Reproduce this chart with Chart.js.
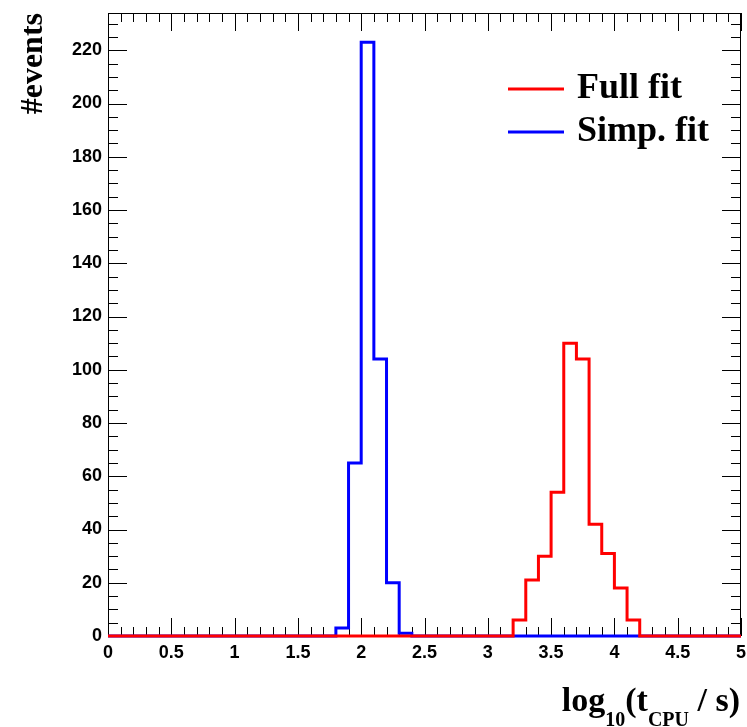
<!DOCTYPE html>
<html>
<head>
<meta charset="utf-8">
<script src="https://cdn.jsdelivr.net/npm/chart.js@4.4.1/dist/chart.umd.min.js"></script>
<style>
html,body{margin:0;padding:0;background:#ffffff;}
#wrap{width:747px;height:727px;position:relative;}
</style>
</head>
<body>
<div id="wrap"><canvas id="c" width="747" height="727"></canvas></div>
<script>
// ---- data ----
const binLow = [0.0,0.1,0.2,0.3,0.4,0.5,0.6,0.7,0.8,0.9,
                1.0,1.1,1.2,1.3,1.4,1.5,1.6,1.7,1.8,1.9,
                2.0,2.1,2.2,2.3,2.4,2.5,2.6,2.7,2.8,2.9,
                3.0,3.1,3.2,3.3,3.4,3.5,3.6,3.7,3.8,3.9,
                4.0,4.1,4.2,4.3,4.4,4.5,4.6,4.7,4.8,4.9];
const binHighEdge = 5.0;
const fullFit = [0,0,0,0,0,0,0,0,0,0,
                 0,0,0,0,0,0,0,0,0,0,
                 0,0,0,0,0,0,0,0,0,0,
                 0,0,6,21,30,54,110,104,42,31,
                 18,6,0,0,0,0,0,0,0,0];
const simpFit = [0,0,0,0,0,0,0,0,0,0,
                 0,0,0,0,0,0,0,0,3,65,
                 223,104,20,1,0,0,0,0,0,0,
                 0,0,0,0,0,0,0,0,0,0,
                 0,0,0,0,0,0,0,0,0,0];
const seriesNames = ['Full fit', 'Simp. fit'];
const xTickValues = [0,0.5,1,1.5,2,2.5,3,3.5,4,4.5,5];
const yTickValues = [0,20,40,60,80,100,120,140,160,180,200,220];
const xRange = [0, 5];
const yRange = [0, 234];
const yTitle = '#events';

// ---- helpers ----
function toSteps(values) {
  const pts = binLow.map((x, i) => ({x: x, y: values[i]}));
  pts.push({x: binHighEdge, y: values[values.length - 1]});
  return pts;
}

const SERIF = '"Liberation Serif", "Times New Roman", serif';
const SANS = '"Liberation Sans", Arial, sans-serif';

const framePlugin = {
  id: 'framePlugin',
  beforeDatasetsDraw(chart) {
    const ctx = chart.ctx;
    const a = chart.chartArea;
    const xs = chart.scales.x, ys = chart.scales.y;
    ctx.save();
    ctx.strokeStyle = '#000';
    ctx.lineWidth = 1;
    ctx.beginPath();
    // x ticks (bottom and top), minor every 0.1, major every 0.5
    for (let i = 0; i <= 50; i++) {
      const v = xRange[0] + i * 0.1;
      const px = Math.round(xs.getPixelForValue(v)) + 0.5;
      const len = (i % 5 === 0) ? 18 : 9;
      ctx.moveTo(px, a.bottom); ctx.lineTo(px, a.bottom - len);
      ctx.moveTo(px, a.top); ctx.lineTo(px, a.top + len);
    }
    // y ticks (left and right), minor every 5, major every 20
    for (let j = 0; j * 5 <= yRange[1]; j++) {
      const v = j * 5;
      const py = Math.round(ys.getPixelForValue(v)) + 0.5;
      const len = (v % 20 === 0) ? 19 : 10;
      ctx.moveTo(a.left, py); ctx.lineTo(a.left + len, py);
      ctx.moveTo(a.right, py); ctx.lineTo(a.right - len, py);
    }
    ctx.stroke();
    ctx.strokeRect(a.left + 0.5, a.top + 0.5, a.right - a.left - 1, a.bottom - a.top - 1);
    ctx.restore();
  },
  afterDraw(chart) {
    const ctx = chart.ctx;
    ctx.save();
    // legend
    const rows = [89, 132];
    chart.data.datasets.forEach((ds, i) => {
      const y = rows[i];
      ctx.strokeStyle = ds.borderColor;
      ctx.lineWidth = 3;
      ctx.beginPath();
      ctx.moveTo(508, y); ctx.lineTo(564, y);
      ctx.stroke();
      ctx.fillStyle = '#000';
      ctx.font = 'bold 36px ' + SERIF;
      ctx.textAlign = 'left';
      ctx.textBaseline = 'alphabetic';
      ctx.fillText(ds.label, 577, y + 8.5);
    });
    // y title
    ctx.save();
    ctx.translate(42, 13);
    ctx.rotate(-Math.PI / 2);
    ctx.font = 'bold 32px ' + SERIF;
    ctx.textAlign = 'right';
    ctx.textBaseline = 'alphabetic';
    ctx.fillStyle = '#000';
    ctx.fillText(yTitle, 0, 0);
    ctx.restore();
    // x title: log10(tCPU / s) with subscripts
    const parts = [
      {t: 'log', s: 34, dy: 0},
      {t: '10', s: 20, dy: 15},
      {t: '(t', s: 34, dy: 0},
      {t: 'CPU', s: 20, dy: 15},
      {t: ' / s)', s: 34, dy: 0}
    ];
    let total = 0;
    parts.forEach(p => { ctx.font = 'bold ' + p.s + 'px ' + SERIF; p.w = ctx.measureText(p.t).width; total += p.w; });
    let x = 740 - total;
    const base = 711;
    ctx.fillStyle = '#000';
    ctx.textAlign = 'left';
    ctx.textBaseline = 'alphabetic';
    parts.forEach(p => {
      ctx.font = 'bold ' + p.s + 'px ' + SERIF;
      ctx.fillText(p.t, x, base + p.dy);
      x += p.w;
    });
    ctx.restore();
  }
};

new Chart(document.getElementById('c'), {
  type: 'line',
  data: {
    datasets: [
      {label: seriesNames[0], data: toSteps(fullFit), borderColor: '#ff0000', borderWidth: 3,
       stepped: true, pointRadius: 0, fill: false, borderJoinStyle: 'miter', tension: 0, clip: false},
      {label: seriesNames[1], data: toSteps(simpFit), borderColor: '#0000ff', borderWidth: 3,
       stepped: true, pointRadius: 0, fill: false, borderJoinStyle: 'miter', tension: 0, clip: false}
    ]
  },
  options: {
    responsive: false,
    devicePixelRatio: 1,
    animation: false,
    events: [],
    layout: {padding: {left: 0, top: 13, right: 6, bottom: 0}},
    plugins: {legend: {display: false}, tooltip: {enabled: false}, title: {display: false}},
    scales: {
      x: {
        type: 'linear', min: xRange[0], max: xRange[1],
        grid: {display: false, drawTicks: false},
        border: {display: false},
        afterBuildTicks: s => { s.ticks = xTickValues.map(v => ({value: v})); },
        afterFit: s => { s.height = 91; s.paddingLeft = 0; s.paddingRight = 0; },
        ticks: {color: '#000', font: {family: SANS, size: 18, weight: 'bold'}, padding: 6,
                maxRotation: 0, autoSkip: false, callback: v => String(v)}
      },
      y: {
        type: 'linear', min: yRange[0], max: yRange[1],
        grid: {display: false, drawTicks: false},
        border: {display: false},
        afterBuildTicks: s => { s.ticks = yTickValues.map(v => ({value: v})); },
        afterFit: s => { s.width = 108; s.paddingTop = 0; s.paddingBottom = 0; },
        ticks: {color: '#000', font: {family: SANS, size: 18, weight: 'bold'}, padding: 6,
                autoSkip: false, callback: v => String(v)}
      }
    }
  },
  plugins: [framePlugin]
});
</script>
</body>
</html>
